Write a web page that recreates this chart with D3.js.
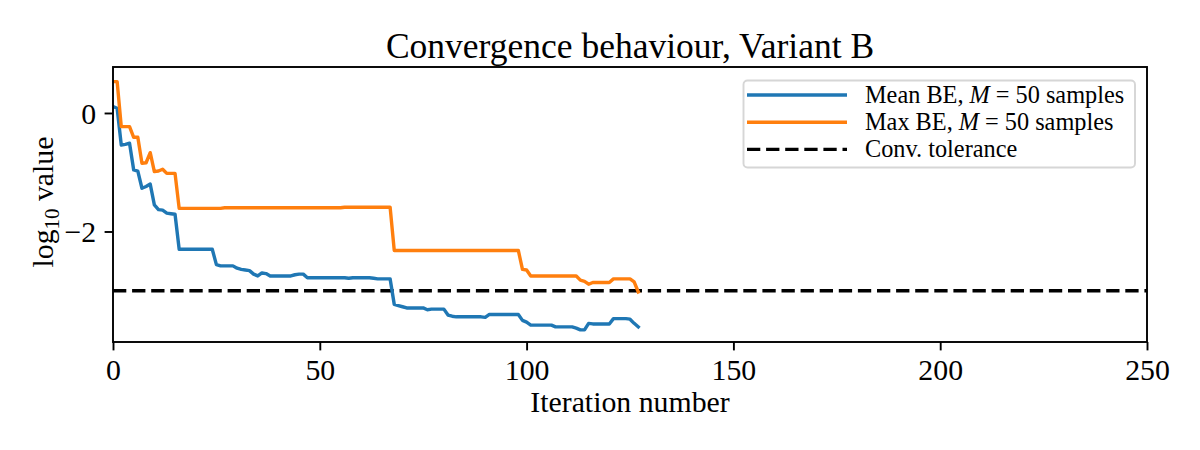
<!DOCTYPE html>
<html><head><meta charset="utf-8">
<script src="https://cdn.jsdelivr.net/npm/d3@7"></script>
<style>
html,body{margin:0;padding:0;background:#fff;}
svg{display:block;}
text{font-family:"Liberation Serif","Times New Roman",serif;fill:#000;}
</style></head>
<body><svg id="c" width="1200" height="450"></svg>
<script>
// ---- data ----
const iterations = d3.range(0, 128);
const meanBE = [
 0.11, 0.08, -0.54, -0.53, -0.51, -0.96, -0.98, -1.27, -1.24, -1.20,
 -1.55, -1.63, -1.64, -1.69, -1.70, -1.71, -2.30, -2.30, -2.30, -2.30,
 -2.30, -2.30, -2.30, -2.30, -2.30, -2.56, -2.58, -2.58, -2.58, -2.58,
 -2.62, -2.64, -2.65, -2.66, -2.72, -2.75, -2.70, -2.71, -2.75, -2.75,
 -2.75, -2.75, -2.75, -2.75, -2.73, -2.72, -2.72, -2.78, -2.78, -2.78,
 -2.78, -2.78, -2.78, -2.78, -2.78, -2.78, -2.78, -2.79, -2.78, -2.78,
 -2.78, -2.78, -2.78, -2.79, -2.80, -2.80, -2.80, -2.80, -3.23, -3.25,
 -3.27, -3.29, -3.29, -3.29, -3.29, -3.29, -3.32, -3.31, -3.31, -3.31,
 -3.31, -3.41, -3.43, -3.44, -3.44, -3.44, -3.44, -3.44, -3.44, -3.44,
 -3.45, -3.40, -3.40, -3.40, -3.40, -3.40, -3.40, -3.40, -3.40, -3.50,
 -3.53, -3.58, -3.58, -3.58, -3.58, -3.58, -3.58, -3.61, -3.61, -3.61,
 -3.61, -3.61, -3.63, -3.66, -3.66, -3.55, -3.56, -3.56, -3.56, -3.56,
 -3.56, -3.47, -3.47, -3.47, -3.47, -3.48, -3.55, -3.61
];
const maxBE = [
 0.53, 0.53, -0.23, -0.23, -0.23, -0.41, -0.41, -0.85, -0.84, -0.67,
 -0.99, -0.98, -0.95, -1.02, -1.02, -1.02, -1.61, -1.61, -1.61, -1.61,
 -1.61, -1.61, -1.61, -1.61, -1.61, -1.61, -1.61, -1.60, -1.60, -1.60,
 -1.60, -1.60, -1.60, -1.60, -1.60, -1.60, -1.60, -1.60, -1.60, -1.60,
 -1.60, -1.60, -1.60, -1.60, -1.60, -1.60, -1.60, -1.60, -1.60, -1.60,
 -1.60, -1.60, -1.60, -1.60, -1.60, -1.60, -1.59, -1.59, -1.59, -1.59,
 -1.59, -1.59, -1.59, -1.59, -1.59, -1.59, -1.59, -1.59, -2.32, -2.32,
 -2.32, -2.32, -2.32, -2.32, -2.32, -2.32, -2.32, -2.32, -2.32, -2.32,
 -2.32, -2.32, -2.32, -2.32, -2.32, -2.32, -2.32, -2.32, -2.32, -2.32,
 -2.32, -2.32, -2.32, -2.32, -2.32, -2.32, -2.32, -2.32, -2.32, -2.64,
 -2.65, -2.75, -2.75, -2.75, -2.75, -2.75, -2.75, -2.75, -2.75, -2.75,
 -2.75, -2.75, -2.75, -2.82, -2.84, -2.89, -2.86, -2.86, -2.86, -2.86,
 -2.86, -2.80, -2.80, -2.80, -2.80, -2.80, -2.85, -3.02
];
const tolerance = -3;
const xTicks = [0, 50, 100, 150, 200, 250];
const yTicks = [0, -2];
const xDomain = [0, 250];
const yDomain = [-3.865, 0.776];
const titleText = "Convergence behaviour, Variant B";
const xLabelText = "Iteration number";

// ---- layout ----
const svg = d3.select("#c");
const L = 113, R = 1147, T = 67, B = 342;
const x = d3.scaleLinear().domain(xDomain).range([L, R]);
const y = d3.scaleLinear().domain(yDomain).range([B, T]);
const lw = 3.4;

svg.append("clipPath").attr("id","clip").append("rect")
  .attr("x", L).attr("y", T).attr("width", R-L).attr("height", B-T);

const plot = svg.append("g").attr("clip-path","url(#clip)");

// tolerance line
plot.append("line")
  .attr("x1", x(xDomain[0])).attr("x2", x(xDomain[1]))
  .attr("y1", y(tolerance)).attr("y2", y(tolerance))
  .attr("stroke","#000").attr("stroke-width", lw)
  .attr("stroke-dasharray","13.3,5.8");

const line = d3.line().x((d,i)=>x(iterations[i])).y(d=>y(d));
plot.append("path").datum(meanBE).attr("d", line)
  .attr("fill","none").attr("stroke","#1f77b4").attr("stroke-width", lw)
  .attr("stroke-linejoin","round").attr("stroke-linecap","square");
plot.append("path").datum(maxBE).attr("d", line)
  .attr("fill","none").attr("stroke","#ff7f0e").attr("stroke-width", lw)
  .attr("stroke-linejoin","round").attr("stroke-linecap","square");

// axes
const fs = 29.8;
const xAxis = d3.axisBottom(x).tickValues(xTicks).tickSize(8.4).tickPadding(8.4)
  .tickFormat(d3.format("d"));
const gx = svg.append("g").attr("transform",`translate(0,${B})`).call(xAxis);
gx.select(".domain").remove();
gx.selectAll(".tick line").attr("stroke","#000").attr("stroke-width",1.9);
gx.selectAll(".tick text").attr("font-size", fs).attr("font-family","Liberation Serif").attr("fill","#000")
  .attr("dy","0.71em");

const yAxis = d3.axisLeft(y).tickValues(yTicks).tickSize(8.4).tickPadding(8.4)
  .tickFormat(d => d < 0 ? "\u2212" + Math.abs(d) : String(d));
const gy = svg.append("g").attr("transform",`translate(${L},0)`).call(yAxis);
gy.select(".domain").remove();
gy.selectAll(".tick line").attr("stroke","#000").attr("stroke-width",1.9);
gy.selectAll(".tick text").attr("font-size", fs).attr("font-family","Liberation Serif").attr("fill","#000")
  .attr("dy","0.34em");

// frame
svg.append("rect").attr("x",L).attr("y",T).attr("width",R-L).attr("height",B-T)
  .attr("fill","none").attr("stroke","#000").attr("stroke-width",1.9);

// title
svg.append("text").attr("x",(L+R)/2).attr("y",57.5).attr("text-anchor","middle")
  .attr("font-size",35.5).text(titleText);

// x label
svg.append("text").attr("x",(L+R)/2).attr("y",412).attr("text-anchor","middle")
  .attr("font-size",fs).text(xLabelText);

// y label
const yl = svg.append("text").attr("transform",`translate(53,202) rotate(-90)`)
  .attr("text-anchor","middle").attr("font-size",fs);
yl.append("tspan").text("log");
yl.append("tspan").attr("font-size",fs*0.7).attr("dy",6).text("10");
yl.append("tspan").attr("dy",-6).text(" value");

// legend
const legendItems = [
  {pre:"Mean BE, ", color:"#1f77b4", dash:null, math:true},
  {pre:"Max BE, ", color:"#ff7f0e", dash:null, math:true},
  {pre:"Conv. tolerance", color:"#000", dash:"13.3,5.8", math:false}
];
const lg = svg.append("g");
lg.append("rect").attr("x",743.5).attr("y",80.5).attr("width",391.5).attr("height",87)
  .attr("rx",4).attr("fill","#fff").attr("fill-opacity",0.8)
  .attr("stroke","#d6d6d6").attr("stroke-width",1.9);
const lfs = 24.3;
legendItems.forEach((it,i)=>{
  const cy = 95 + i*27.2;
  lg.append("line").attr("x1",747).attr("x2",847).attr("y1",cy).attr("y2",cy)
    .attr("stroke",it.color).attr("stroke-width",lw)
    .attr("stroke-dasharray", it.dash);
  const t = lg.append("text").attr("x",865).attr("y",cy+8).attr("font-size",lfs);
  t.append("tspan").text(it.pre);
  if (it.math) {
    t.append("tspan").attr("font-style","italic").text("M");
    t.append("tspan").attr("dx",6).text("=");
    t.append("tspan").attr("dx",6).text("50");
    t.append("tspan").text(" samples");
  }
});
</script></body></html>
